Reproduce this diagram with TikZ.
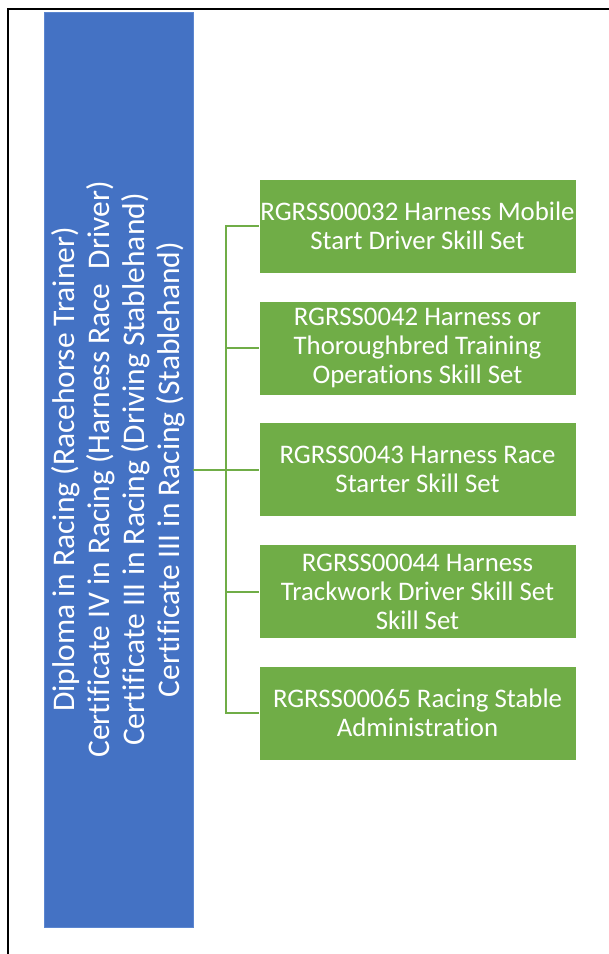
\documentclass[tikz,border=0pt]{standalone}
\usepackage{fontspec}
\setmainfont{Carlito}[Ligatures=NoCommon]
\definecolor{bluebox}{HTML}{4472C4}
\definecolor{blueedge}{HTML}{5B86D0}
\definecolor{greenbox}{HTML}{70AD47}
\begin{document}
\begin{tikzpicture}[x=1pt,y=-1pt,
  mainbox/.style={rectangle, fill=bluebox, draw=blueedge, line width=0.8pt, rotate=90,
    minimum width=915pt, minimum height=149pt, inner sep=0pt, text=white, align=center,
    font=\fontsize{31.5}{35}\selectfont},
  skillbox/.style={rectangle, fill=greenbox, draw=white, line width=0.8pt,
    minimum width=317pt, minimum height=94pt, inner sep=0pt, text=white, align=center,
    font=\fontsize{26.8}{29}\selectfont},
  link/.style={draw=greenbox, line width=2pt}]
\useasboundingbox (0,0) rectangle (609,954);
\draw[line width=2.6pt] (8,954) -- (8,9) -- (612,9);
\node[mainbox] (main) at (118.5,469.5) {Diploma in Racing (Racehorse Trainer)\\Certificate IV in Racing (Harness Race\ \ Driver)\\Certificate III in Racing (Driving Stablehand)\\Certificate III in Racing (Stablehand)};
\node[skillbox] (g1) at (417.5,226) {RGRSS00032 Harness Mobile\\Start Driver Skill Set};
\node[skillbox] (g2) at (417.5,348) {RGRSS0042 Harness or\\Thoroughbred Training\\Operations Skill Set};
\node[skillbox] (g3) at (417.5,469.5) {RGRSS0043 Harness Race\\Starter Skill Set};
\node[skillbox] (g4) at (417.5,591.5) {RGRSS00044 Harness\\Trackwork Driver Skill Set\\Skill Set};
\node[skillbox] (g5) at (417.5,713) {RGRSS00065 Racing Stable\\Administration};
\coordinate (trunk) at (225.7,469.5);
\draw[link] (main.south) -- (trunk);
\foreach \g in {g1,g2,g3,g4,g5} {\draw[link] (\g.west) -| (trunk);}
\end{tikzpicture}
\end{document}
